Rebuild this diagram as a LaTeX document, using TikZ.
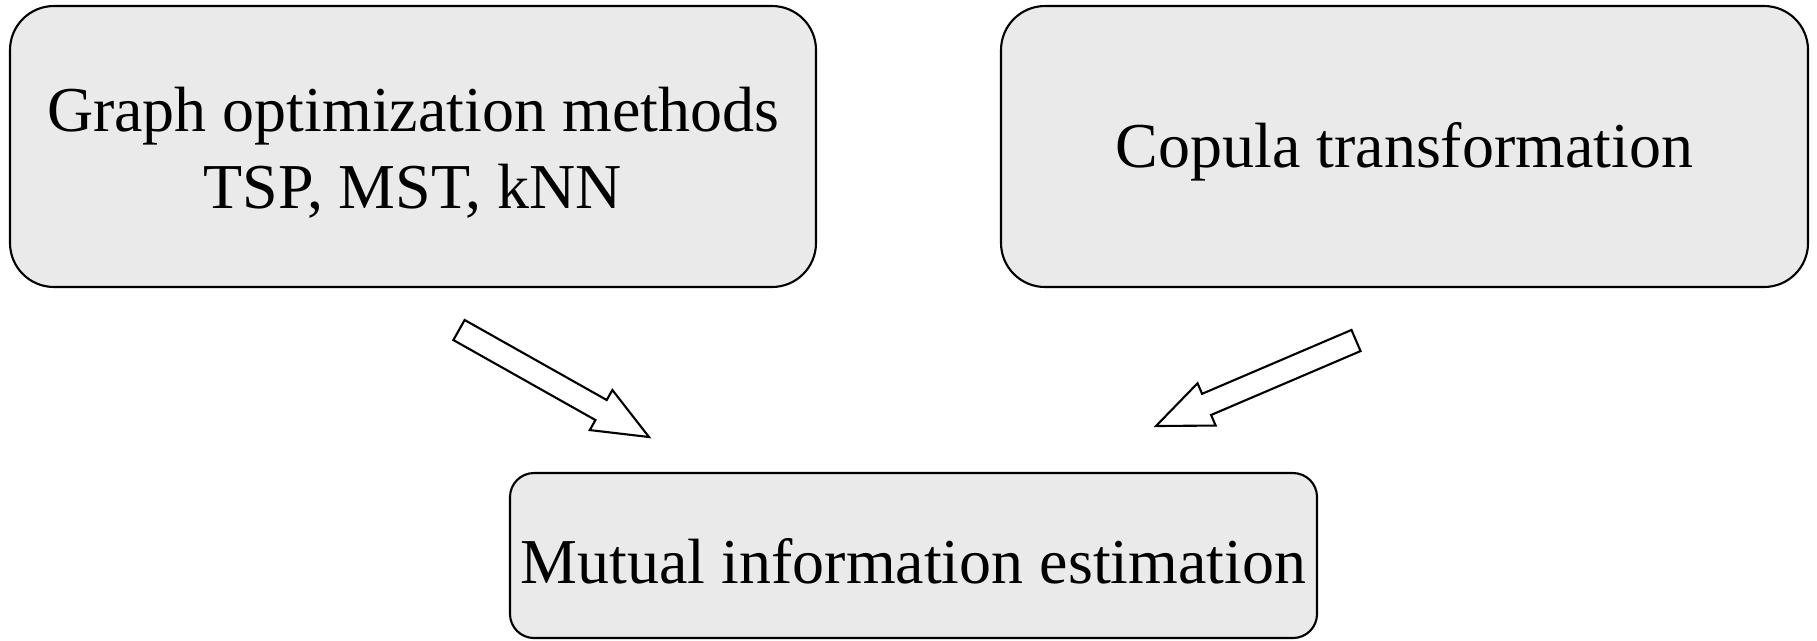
\documentclass[tikz,border=0pt]{standalone}
\usepackage{fontspec}
\setmainfont{Liberation Serif}
\usetikzlibrary{calc}
\definecolor{boxfill}{HTML}{EAEAEA}
\tikzset{
  stagebox/.style={draw, line width=0.6pt, fill=boxfill, align=center, inner sep=0pt,
    font=\fontsize{18.2}{21.9}\selectfont},
  arrowbody/.style={draw, line width=0.6pt, fill=white, line join=miter}
}
\newcommand\topstrut{\rule{0pt}{16pt}}
% hollow block arrow from #1 (tail centre) to #2 (tip)
\newcommand\blockarrow[2]{%
  \coordinate (neck) at ($(#2)!0.55cm!(#1)$);
  \draw[arrowbody] ($(#1)!0.115cm!90:(#2)$) -- ($(neck)!0.115cm!-90:(#1)$) -- ($(neck)!0.23cm!-90:(#1)$)
    -- (#2) -- ($(neck)!0.23cm!90:(#1)$) -- ($(neck)!0.115cm!90:(#1)$) -- ($(#1)!0.115cm!-90:(#2)$) -- cycle;}
\begin{document}
\begin{tikzpicture}
\useasboundingbox (0,0) rectangle (18.17,-6.40);
\node[stagebox, rounded corners=0.44cm, minimum width=8.06cm, minimum height=2.81cm] (graph) at (4.13,-1.465) {\topstrut Graph optimization methods\\TSP, MST, kNN};
\node[stagebox, rounded corners=0.44cm, minimum width=8.07cm, minimum height=2.81cm] (copula) at (14.045,-1.465) {\topstrut Copula transformation};
\node[stagebox, rounded corners=0.24cm, minimum width=8.07cm, minimum height=1.65cm] (mutual) at (9.135,-5.555) {\topstrut Mutual information estimation};
\coordinate (graphtail) at (4.59,-3.30);
\coordinate (graphtip) at (6.49,-4.37);
\coordinate (copulatail) at (13.56,-3.405);
\coordinate (copulatip) at (11.56,-4.26);
\blockarrow{graphtail}{graphtip}
\blockarrow{copulatail}{copulatip}
\end{tikzpicture}
\end{document}
